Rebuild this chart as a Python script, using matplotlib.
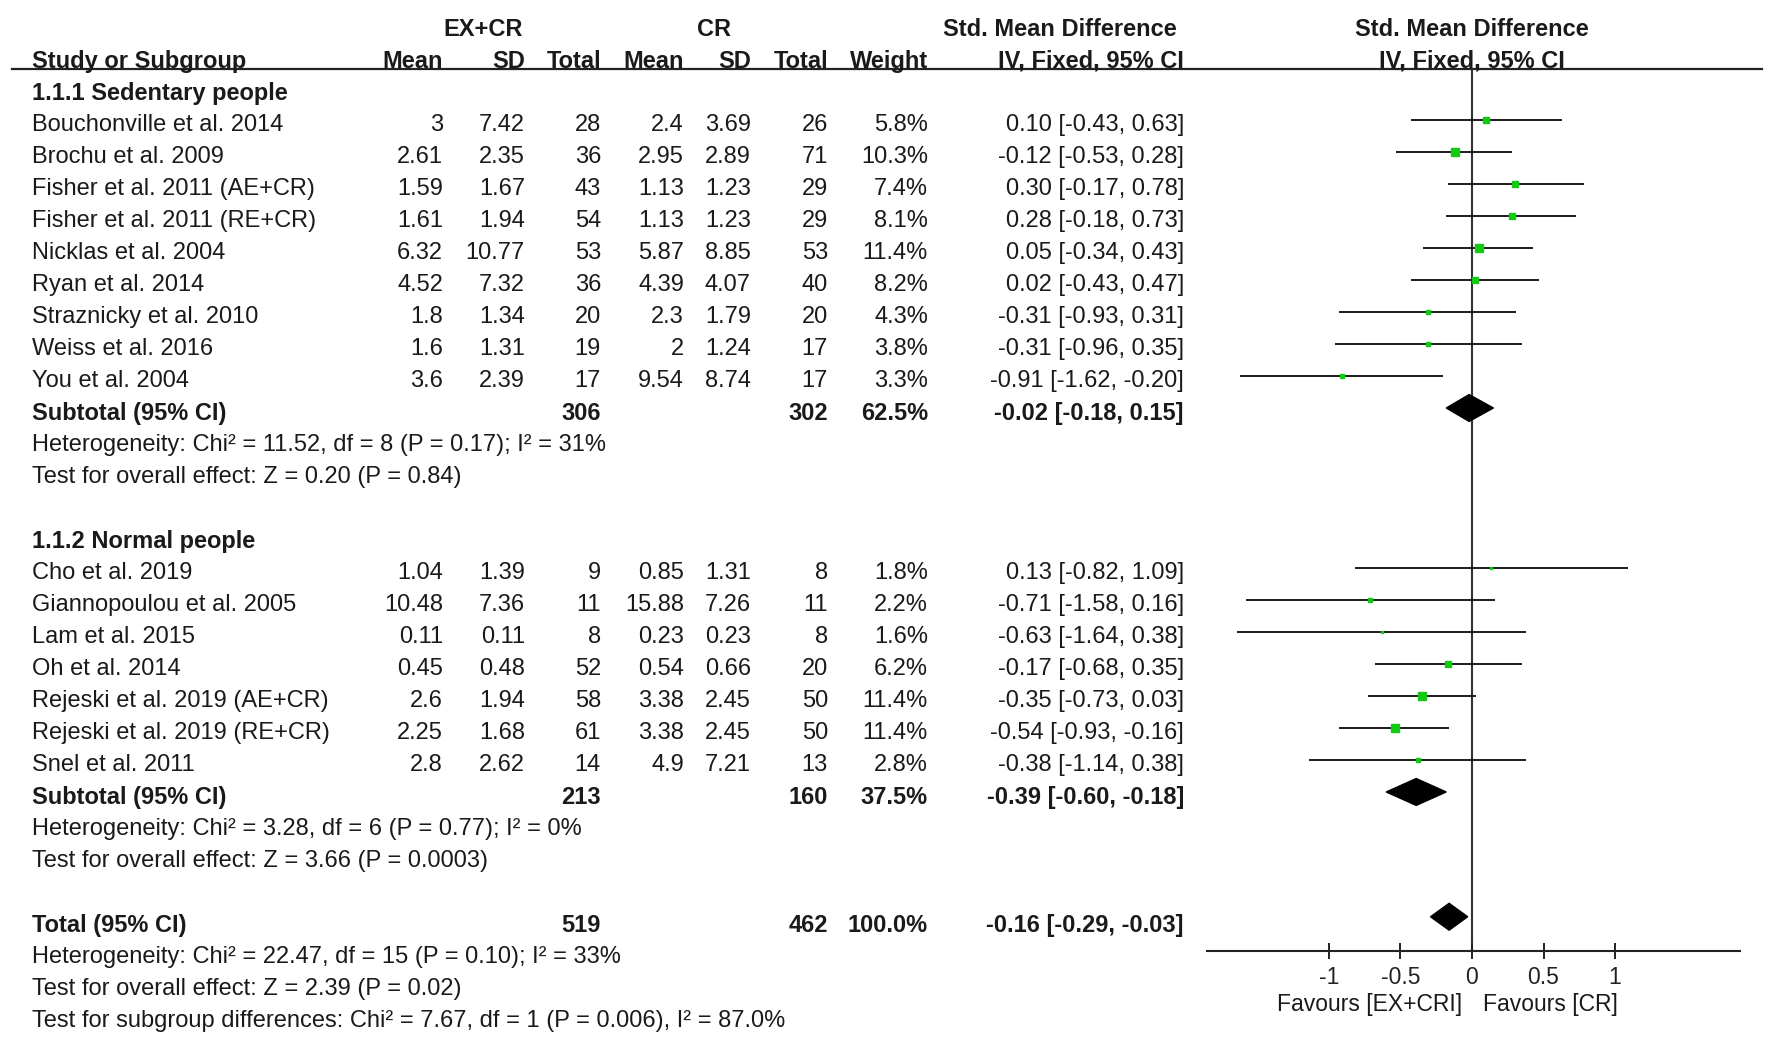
import matplotlib
matplotlib.use('Agg')
import matplotlib.pyplot as plt
import numpy as np

plt.rcParams['font.family'] = ['Liberation Sans', 'DejaVu Sans']

# 1.1.1 Sedentary people
studies1 = ["Bouchonville et al. 2014", "Brochu et al. 2009", "Fisher et al. 2011 (AE+CR)",
            "Fisher et al. 2011 (RE+CR)", "Nicklas et al. 2004", "Ryan et al. 2014",
            "Straznicky et al. 2010", "Weiss et al. 2016", "You et al. 2004"]
ex_mean1 = [3, 2.61, 1.59, 1.61, 6.32, 4.52, 1.8, 1.6, 3.6]
ex_sd1 = [7.42, 2.35, 1.67, 1.94, 10.77, 7.32, 1.34, 1.31, 2.39]
ex_n1 = [28, 36, 43, 54, 53, 36, 20, 19, 17]
cr_mean1 = [2.4, 2.95, 1.13, 1.13, 5.87, 4.39, 2.3, 2, 9.54]
cr_sd1 = [3.69, 2.89, 1.23, 1.23, 8.85, 4.07, 1.79, 1.24, 8.74]
cr_n1 = [26, 71, 29, 29, 53, 40, 20, 17, 17]
weight1 = [5.8, 10.3, 7.4, 8.1, 11.4, 8.2, 4.3, 3.8, 3.3]
smd1 = [0.10, -0.12, 0.30, 0.28, 0.05, 0.02, -0.31, -0.31, -0.91]
lo1 = [-0.43, -0.53, -0.17, -0.18, -0.34, -0.43, -0.93, -0.96, -1.62]
hi1 = [0.63, 0.28, 0.78, 0.73, 0.43, 0.47, 0.31, 0.35, -0.20]

# 1.1.2 Normal people
studies2 = ["Cho et al. 2019", "Giannopoulou et al. 2005", "Lam et al. 2015", "Oh et al. 2014",
            "Rejeski et al. 2019 (AE+CR)", "Rejeski et al. 2019 (RE+CR)", "Snel et al. 2011"]
ex_mean2 = [1.04, 10.48, 0.11, 0.45, 2.6, 2.25, 2.8]
ex_sd2 = [1.39, 7.36, 0.11, 0.48, 1.94, 1.68, 2.62]
ex_n2 = [9, 11, 8, 52, 58, 61, 14]
cr_mean2 = [0.85, 15.88, 0.23, 0.54, 3.38, 3.38, 4.9]
cr_sd2 = [1.31, 7.26, 0.23, 0.66, 2.45, 2.45, 7.21]
cr_n2 = [8, 11, 8, 20, 50, 50, 13]
weight2 = [1.8, 2.2, 1.6, 6.2, 11.4, 11.4, 2.8]
smd2 = [0.13, -0.71, -0.63, -0.17, -0.35, -0.54, -0.38]
lo2 = [-0.82, -1.58, -1.64, -0.68, -0.73, -0.93, -1.14]
hi2 = [1.09, 0.16, 0.38, 0.35, 0.03, -0.16, 0.38]

# pooled: subgroup 1, subgroup 2, total
pool_label = ["Subtotal (95% CI)", "Subtotal (95% CI)", "Total (95% CI)"]
pool_ex_n = [306, 213, 519]
pool_cr_n = [302, 160, 462]
pool_w = [62.5, 37.5, 100.0]
pool_smd = [-0.02, -0.39, -0.16]
pool_lo = [-0.18, -0.60, -0.29]
pool_hi = [0.15, -0.18, -0.03]
het_chi = [11.52, 3.28, 22.47]
het_df = [8, 6, 15]
het_p = ["0.17", "0.77", "0.10"]
het_i2 = [31, 0, 33]
z_val = [0.20, 3.66, 2.39]
z_p = ["0.84", "0.0003", "0.02"]
sub_chi, sub_df, sub_p, sub_i2 = 7.67, 1, "0.006", 87.0

groups = ["1.1.1 Sedentary people", "1.1.2 Normal people"]
ticks = [-1, -0.5, 0, 0.5, 1]
tick_labels = ["-1", "-0.5", "0", "0.5", "1"]

txt = '#1a1a1a'
green = '#14c814'
fs = 17
dy = 0.17  # text sits a bit lower than the marks

fig = plt.figure(figsize=(17.72, 10.44), dpi=100)
ax = fig.add_axes([0, 0, 1, 1])
ax.set_xlim(0, 1772)
ax.set_ylim(29.875, -2.75)
ax.axis('off')

# column right edges (name column is left aligned)
cx = {'name': 32, 'm1': 443, 'sd1': 525, 'n1': 601, 'm2': 684, 'sd2': 751,
      'n2': 828, 'w': 928, 'ci': 1184}


def put(x, k, s, ha='right', bold=False, size=fs, off=dy):
    ax.text(x, k + off, s, ha=ha, va='center', fontsize=size, color=txt,
            fontweight='bold' if bold else 'normal')


# headers
put(483, -2, "EX+CR", ha='center', bold=True)
put(714, -2, "CR", ha='center', bold=True)
put(1177, -2, "Std. Mean Difference", bold=True)
put(1472, -2, "Std. Mean Difference", ha='center', bold=True)
put(cx['name'], -1, "Study or Subgroup", ha='left', bold=True)
for key, lab in [('m1', 'Mean'), ('sd1', 'SD'), ('n1', 'Total'), ('m2', 'Mean'),
                 ('sd2', 'SD'), ('n2', 'Total'), ('w', 'Weight'), ('ci', 'IV, Fixed, 95% CI')]:
    put(cx[key], -1, lab, bold=True)
put(1472, -1, "IV, Fixed, 95% CI", ha='center', bold=True)
ax.plot([12, 1762], [-0.594, -0.594], color='#222222', lw=1.6)

fa = fig.add_axes([1207 / 1772, 1 - 951 / 1044, (1740 - 1207) / 1772, (951 - 69) / 1044])
fa.set_xlim(-1.853, 1.874)
fa.set_ylim(26.97, -0.594)
fa.patch.set_alpha(0)
for s in ['left', 'right', 'top']:
    fa.spines[s].set_visible(False)
fa.spines['bottom'].set_linewidth(1.5)
fa.spines['bottom'].set_color('#222222')
fa.set_yticks([])
fa.set_xticks(ticks)
fa.set_xticklabels(tick_labels)
fa.tick_params(axis='x', direction='inout', length=12, width=1.4, pad=5,
               labelsize=16.5, colors='#222222')
fa.axvline(0, color='#333333', lw=1.5, zorder=1)

data = [
    (studies1, ex_mean1, ex_sd1, ex_n1, cr_mean1, cr_sd1, cr_n1, weight1, smd1, lo1, hi1),
    (studies2, ex_mean2, ex_sd2, ex_n2, cr_mean2, cr_sd2, cr_n2, weight2, smd2, lo2, hi2),
]
start = [0, 14]


def diamond(k, est, lo, hi):
    h = 0.42
    fa.fill([lo, est, hi, est], [k, k - h, k, k + h], color='black', zorder=3, clip_on=False)


for g, (names, m1, s1, n1, m2, s2, n2, w, smd, lo, hi) in enumerate(data):
    k0 = start[g]
    put(cx['name'], k0, groups[g], ha='left', bold=True)
    for i in range(len(names)):
        k = k0 + 1 + i
        put(cx['name'], k, names[i], ha='left')
        put(cx['m1'], k, '{:g}'.format(m1[i]))
        put(cx['sd1'], k, '{:g}'.format(s1[i]))
        put(cx['n1'], k, str(n1[i]))
        put(cx['m2'], k, '{:g}'.format(m2[i]))
        put(cx['sd2'], k, '{:g}'.format(s2[i]))
        put(cx['n2'], k, str(n2[i]))
        put(cx['w'], k, '{:.1f}%'.format(w[i]))
        put(cx['ci'], k, '{:.2f} [{:.2f}, {:.2f}]'.format(smd[i], lo[i], hi[i]))
        fa.hlines(k, lo[i], hi[i], color='#1a1a1a', lw=1.4, zorder=2, clip_on=False)
        side = 2.2 * np.sqrt(w[i]) * 0.72
        fa.plot(smd[i], k, marker='s', ms=side, color=green, mec=green, zorder=4, clip_on=False)
    k = k0 + 1 + len(names)
    put(cx['name'], k, pool_label[g], ha='left', bold=True)
    put(cx['n1'], k, str(pool_ex_n[g]), bold=True)
    put(cx['n2'], k, str(pool_cr_n[g]), bold=True)
    put(cx['w'], k, '{:.1f}%'.format(pool_w[g]), bold=True)
    put(cx['ci'], k, '{:.2f} [{:.2f}, {:.2f}]'.format(pool_smd[g], pool_lo[g], pool_hi[g]), bold=True)
    diamond(k, pool_smd[g], pool_lo[g], pool_hi[g])
    put(cx['name'], k + 1, 'Heterogeneity: Chi² = {:.2f}, df = {} (P = {}); I² = {}%'.format(
        het_chi[g], het_df[g], het_p[g], het_i2[g]), ha='left')
    put(cx['name'], k + 2, 'Test for overall effect: Z = {:.2f} (P = {})'.format(z_val[g], z_p[g]), ha='left')

# total
k = 26
put(cx['name'], k, pool_label[2], ha='left', bold=True)
put(cx['n1'], k, str(pool_ex_n[2]), bold=True)
put(cx['n2'], k, str(pool_cr_n[2]), bold=True)
put(cx['w'], k, '{:.1f}%'.format(pool_w[2]), bold=True)
put(cx['ci'], k, '{:.2f} [{:.2f}, {:.2f}]'.format(pool_smd[2], pool_lo[2], pool_hi[2]), bold=True)
diamond(25.9, pool_smd[2], pool_lo[2], pool_hi[2])
put(cx['name'], 27, 'Heterogeneity: Chi² = {:.2f}, df = {} (P = {}); I² = {}%'.format(
    het_chi[2], het_df[2], het_p[2], het_i2[2]), ha='left')
put(cx['name'], 28, 'Test for overall effect: Z = {:.2f} (P = {})'.format(z_val[2], z_p[2]), ha='left')
put(cx['name'], 29, 'Test for subgroup differences: Chi² = {:.2f}, df = {} (P = {}), I² = {:.1f}%'.format(
    sub_chi, sub_df, sub_p, sub_i2), ha='left')

put(1462, 28.6, "Favours [EX+CRI]", size=16.5, off=0.05)
put(1483, 28.6, "Favours [CR]", ha='left', size=16.5, off=0.05)

fig.savefig('out.png', dpi=100, facecolor='white')
